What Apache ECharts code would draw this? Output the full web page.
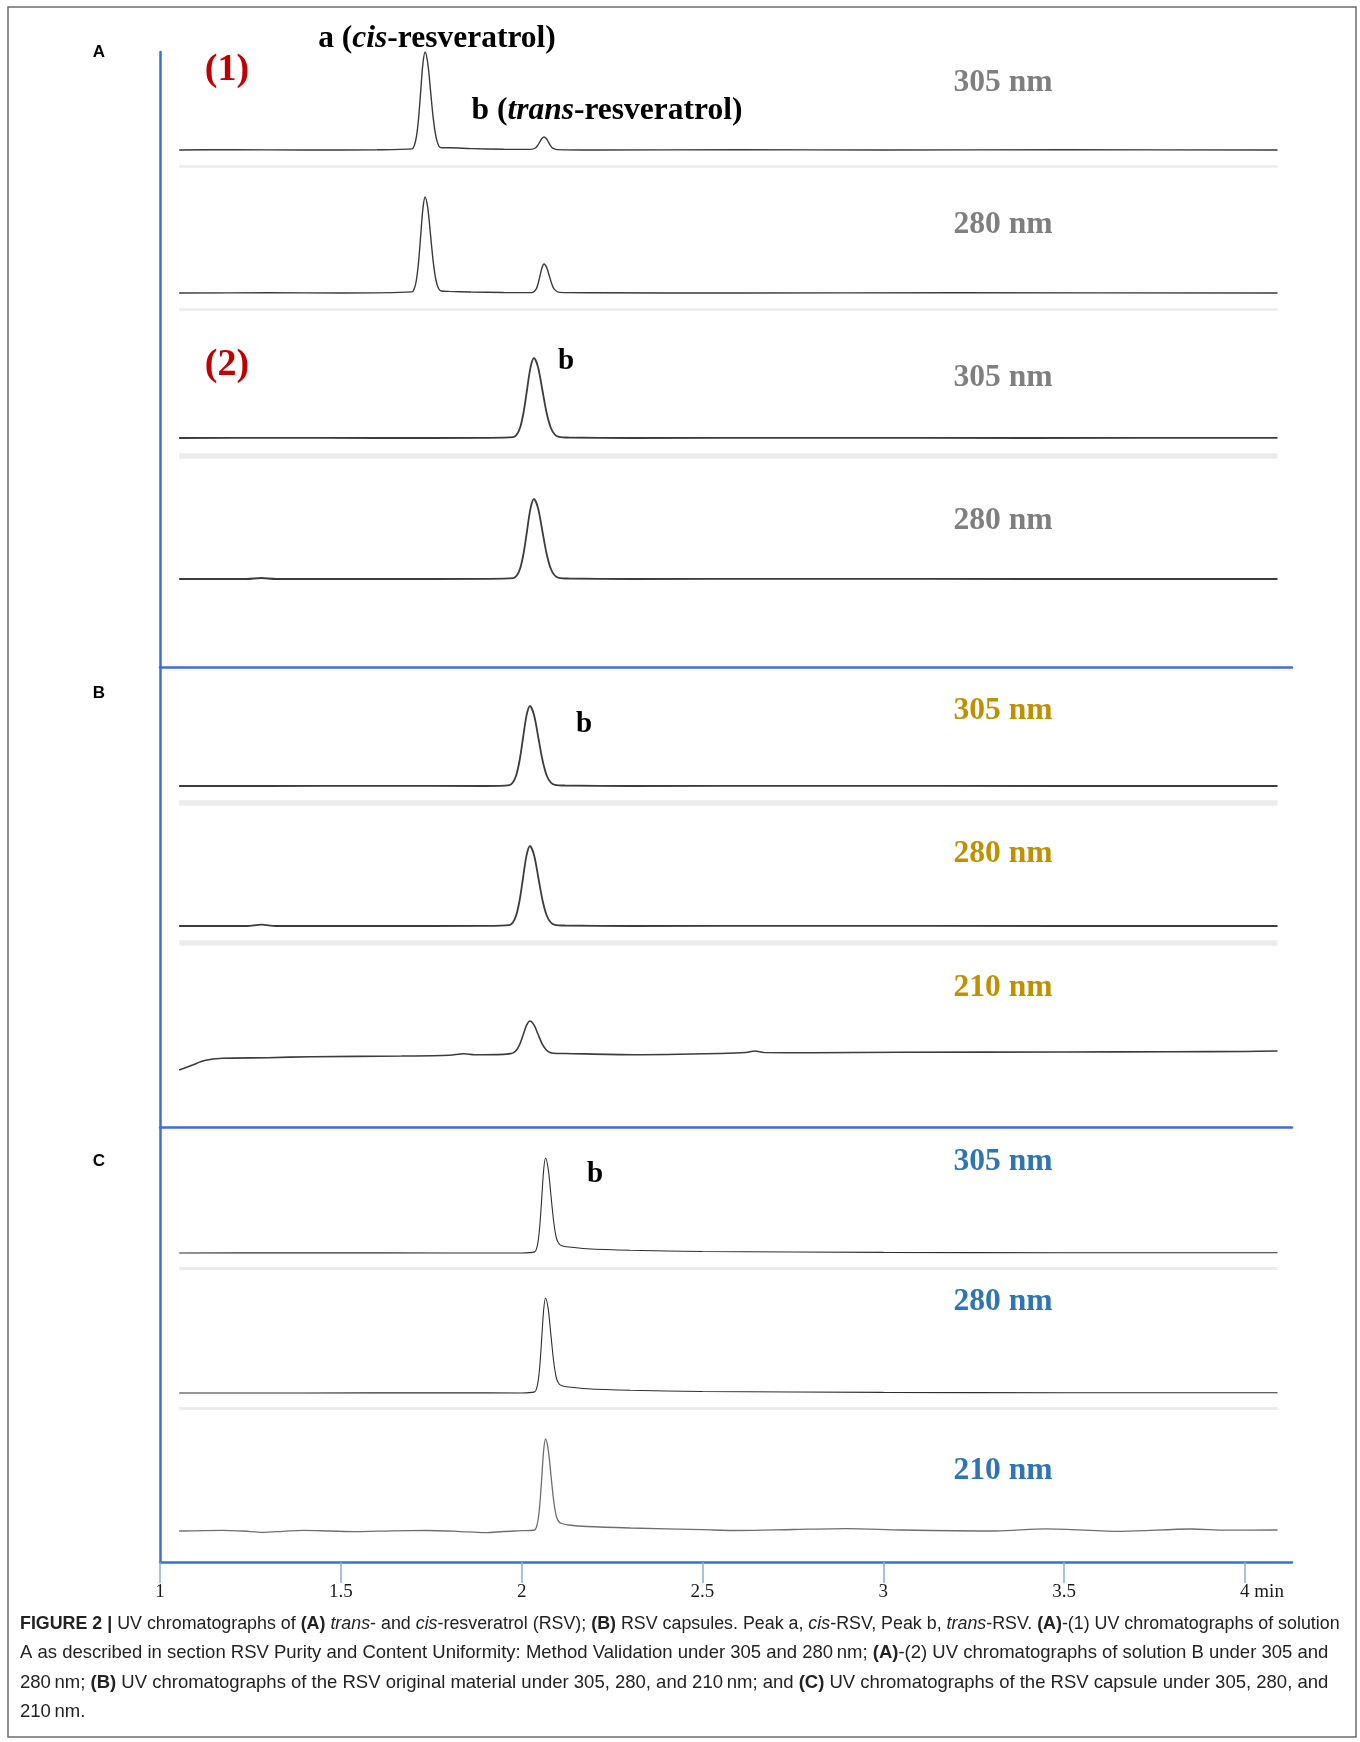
<!DOCTYPE html>
<html>
<head>
<meta charset="utf-8">
<script src="https://cdn.jsdelivr.net/npm/echarts@6/dist/echarts.min.js"></script>
<style>
  html, body { margin: 0; padding: 0; background: #ffffff; }
  #chart { width: 1360px; height: 1742px; }
</style>
</head>
<body>
<div id="chart"></div>
<script>
// Retention-time axis (min)
const timeTicks = [1, 1.5, 2, 2.5, 3, 3.5, 4];
const timeRange = [1, 4.13];

// Detection wavelengths of each chromatogram, top to bottom
const wavelengths = ['305 nm', '280 nm', '305 nm', '280 nm', '305 nm', '280 nm', '210 nm', '305 nm', '280 nm', '210 nm'];

// Chromatograms: [retention time (min), detector response (relative units)]
// (A)-(1) solution A, 305 nm: peak a (cis) and peak b (trans)
const traceA1_305 = [
  [1.053, 0], [1.2, 0.3], [1.4, 0], [1.6, 0.2], [1.697, 1.1], [1.703, 4.3], [1.709, 13.3], [1.715, 31.8],
  [1.721, 59.4], [1.727, 86.5], [1.733, 98], [1.7405, 86.5], [1.748, 59.4], [1.7555, 31.8], [1.763, 13.3],
  [1.7705, 4.3], [1.778, 2.2], [1.80, 2.2], [1.86, 1.4], [1.95, 0.8], [2.026, 0.6], [2.038, 2], [2.044, 4.4],
  [2.050, 8], [2.056, 11.5], [2.062, 13], [2.068, 11.5], [2.074, 7.9], [2.080, 4.2], [2.086, 1.8], [2.098, 0.4],
  [2.2, 0], [2.6, 0.2], [3.0, 0], [3.5, 0.2], [4.09, 0]
];
// (A)-(1) solution A, 280 nm
const traceA1_280 = [
  [1.053, 0], [1.3, 0.2], [1.5, 0], [1.697, 1.1], [1.703, 4.2], [1.709, 13], [1.715, 31.2], [1.721, 58.2],
  [1.727, 84.7], [1.733, 96], [1.7405, 84.7], [1.748, 58.2], [1.7555, 31.2], [1.763, 13], [1.7705, 4.2],
  [1.778, 2], [1.80, 1.6], [1.86, 1], [1.95, 0.5], [2.029, 0.4], [2.040, 3.9], [2.0455, 9.4], [2.051, 17.6],
  [2.0565, 25.6], [2.062, 29], [2.069, 25.6], [2.076, 17.6], [2.083, 9.4], [2.090, 3.9], [2.104, 0.6],
  [2.2, 0.2], [2.6, 0], [3.2, 0.2], [4.09, 0]
];
// (A)-(2) solution B, 305 nm: peak b
const traceA2_305 = [
  [1.053, 0], [1.3, 0.2], [1.6, 0], [1.9, 0.2], [1.977, 0.9], [1.9865, 3.5], [1.996, 10.8], [2.0055, 26],
  [2.015, 48.5], [2.0245, 70.6], [2.034, 80], [2.0455, 70.6], [2.057, 48.5], [2.0685, 26], [2.080, 10.8],
  [2.0915, 3.5], [2.103, 1.2], [2.13, 0.5], [2.3, 0], [2.8, 0.2], [3.4, 0], [4.09, 0.1]
];
// (A)-(2) solution B, 280 nm
const traceA2_280 = [
  [1.053, 0], [1.24, 0], [1.28, 1], [1.32, 0], [1.6, 0], [1.9, 0.2], [1.977, 0.9], [1.9865, 3.5], [1.996, 10.8],
  [2.0055, 26], [2.015, 48.5], [2.0245, 70.6], [2.034, 80], [2.0455, 70.6], [2.057, 48.5], [2.0685, 26],
  [2.080, 10.8], [2.0915, 3.5], [2.103, 1.2], [2.13, 0.5], [2.3, 0], [2.8, 0.2], [3.4, 0], [4.09, 0]
];
// (B) RSV original material, 305 nm
const traceB_305 = [
  [1.053, 0], [1.3, 0], [1.6, 0.2], [1.9, 0], [1.966, 0.9], [1.9755, 3.5], [1.985, 10.8], [1.9945, 26],
  [2.004, 48.5], [2.0135, 70.6], [2.023, 80], [2.0345, 70.6], [2.046, 48.5], [2.0575, 26], [2.069, 10.8],
  [2.0805, 3.5], [2.092, 1.2], [2.12, 0.5], [2.3, 0], [2.8, 0.2], [3.5, 0], [4.09, 0]
];
// (B) RSV original material, 280 nm
const traceB_280 = [
  [1.053, 0], [1.24, 0], [1.28, 1.3], [1.32, 0], [1.6, 0], [1.9, 0.1], [1.966, 0.9], [1.9755, 3.5], [1.985, 10.8],
  [1.9945, 26], [2.004, 48.5], [2.0135, 70.6], [2.023, 80], [2.0345, 70.6], [2.046, 48.5], [2.0575, 26],
  [2.069, 10.8], [2.0805, 3.5], [2.092, 1.2], [2.12, 0.5], [2.3, 0], [2.8, 0.2], [3.5, 0], [4.09, 0]
];
// (B) RSV original material, 210 nm (rising baseline at the start)
const traceB_210 = [
  [1.053, 2], [1.09, 7], [1.123, 11.5], [1.173, 13.7], [1.297, 14.3], [1.42, 15.3], [1.668, 16], [1.80, 16.8],
  [1.84, 18.2], [1.87, 17.2], [1.95, 17.6], [1.969, 18.4], [1.978, 19.4], [1.987, 22.5], [1.996, 28.7],
  [2.005, 38], [2.014, 47.1], [2.023, 51], [2.034, 47.1], [2.045, 38], [2.056, 28.7], [2.067, 22.5],
  [2.078, 19.6], [2.089, 18.8], [2.12, 18.5], [2.31, 17.3], [2.55, 18.5], [2.62, 19.5], [2.645, 21],
  [2.67, 19.5], [2.8, 19.3], [3.05, 19.7], [3.5, 20], [3.8, 20.3], [4.0, 20.5], [4.09, 21]
];
// (C) RSV capsule, 305 nm (tailing peak b)
const traceC_305 = [
  [1.053, 0], [1.4, 0.2], [1.8, 0], [2.0, 0], [2.036, 1.1], [2.041, 4.2], [2.046, 12.9], [2.051, 30.8],
  [2.056, 57.6], [2.061, 83.8], [2.066, 95], [2.0735, 83.8], [2.081, 57.6], [2.0885, 31.5], [2.096, 15],
  [2.1035, 9], [2.111, 7.3], [2.13, 6], [2.18, 4.3], [2.3, 2.8], [2.5, 1.5], [3.0, 0.6], [3.5, 0.3], [4.09, 0.2]
];
// (C) RSV capsule, 280 nm
const traceC_280 = [
  [1.053, 0], [1.4, 0], [1.8, 0.2], [2.0, 0], [2.036, 1.1], [2.041, 4.2], [2.046, 12.9], [2.051, 30.8],
  [2.056, 57.6], [2.061, 83.8], [2.066, 95], [2.0735, 83.8], [2.081, 57.6], [2.0885, 31.5], [2.096, 15],
  [2.1035, 9], [2.111, 7.3], [2.13, 6], [2.18, 4.3], [2.3, 2.8], [2.5, 1.5], [3.0, 0.6], [3.5, 0.3], [4.09, 0.2]
];
// (C) RSV capsule, 210 nm (wavy baseline)
const traceC_210 = [
  [1.053, 0], [1.173, 0.7], [1.23, 0], [1.284, -1.3], [1.34, -0.3], [1.396, 0.7], [1.47, 0], [1.544, -0.7],
  [1.64, 0.2], [1.74, 0.5], [1.82, -0.3], [1.90, -1.7], [1.95, -0.5], [2.0, 0.3], [2.036, 1], [2.041, 4],
  [2.046, 12.5], [2.051, 30], [2.056, 55.8], [2.061, 81.2], [2.066, 92], [2.0735, 81.2], [2.081, 55.8],
  [2.0885, 30.5], [2.096, 14.5], [2.1035, 9], [2.111, 7.5], [2.13, 6], [2.18, 4.5], [2.3, 3], [2.5, 1.3],
  [2.6, 0.5], [2.75, 1.5], [2.9, 2.4], [3.05, 1], [3.31, 0], [3.45, 2.2], [3.66, -0.3], [3.85, 2],
  [3.95, 0.8], [4.09, 1]
];

// ---- layout ----
const GRID_LEFT = 160;
const GRID_RIGHT = 68;
const AXIS_BLUE = '#3d6fd4';
const TICK_BLUE = '#8eaadc';
const SERIF = '"Liberation Serif", "Times New Roman", serif';
const SANS = '"Liberation Sans", Arial, Helvetica, sans-serif';

// Section frames (A, B, C) drawn as blue L-shaped axes
const frames = [
  { top: 52, height: 615 },
  { top: 667, height: 460 },
  { top: 1127, height: 435 }
];

// Per-chromatogram placement: baseline pixel, grey band below trace, stroke
const traces = [
  { data: traceA1_305, base: 150, band: 16, bandW: 2.5, color: '#3a3a3a', width: 1.4, labelY: 83,  labelColor: '#7f7f7f' },
  { data: traceA1_280, base: 293, band: 16, bandW: 2.5, color: '#3a3a3a', width: 1.4, labelY: 225, labelColor: '#7f7f7f' },
  { data: traceA2_305, base: 438, band: 18, bandW: 5.5, color: '#3c3c3c', width: 1.8, labelY: 378, labelColor: '#7f7f7f' },
  { data: traceA2_280, base: 579, band: 0,  bandW: 0,   color: '#3c3c3c', width: 1.8, labelY: 521, labelColor: '#7f7f7f' },
  { data: traceB_305,  base: 786, band: 17, bandW: 5.5, color: '#3c3c3c', width: 1.8, labelY: 711, labelColor: '#bf9000' },
  { data: traceB_280,  base: 926, band: 17, bandW: 5.5, color: '#3c3c3c', width: 1.8, labelY: 854, labelColor: '#bf9000' },
  { data: traceB_210,  base: 1072, band: 0, bandW: 0,   color: '#3c3c3c', width: 1.6, labelY: 988, labelColor: '#bf9000' },
  { data: traceC_305,  base: 1253, band: 15, bandW: 3.2, color: '#2e2e2e', width: 1.1, labelY: 1162, labelColor: '#2e75b6' },
  { data: traceC_280,  base: 1393, band: 15, bandW: 3.2, color: '#2e2e2e', width: 1.1, labelY: 1302, labelColor: '#2e75b6' },
  { data: traceC_210,  base: 1531, band: 0,  bandW: 0,   color: '#6e6e6e', width: 1.3, labelY: 1471, labelColor: '#2e75b6' }
];

const grid = [];
const xAxis = [];
const yAxis = [];
const series = [];

frames.forEach((f, i) => {
  const isLast = i === frames.length - 1;
  grid.push({ left: GRID_LEFT, right: GRID_RIGHT, top: f.top, height: f.height, containLabel: false, outerBoundsMode: 'none' });
  xAxis.push({
    gridIndex: i, type: 'value', min: timeRange[0], max: timeRange[1],
    axisLine: { show: true, lineStyle: { color: AXIS_BLUE, width: 2.5 } },
    axisTick: isLast
      ? { show: true, customValues: timeTicks, length: 21, lineStyle: { color: TICK_BLUE, width: 1.5 } }
      : { show: false },
    axisLabel: isLast
      ? {
          show: true, customValues: timeTicks, margin: 21,
          formatter: v => (v === 4 ? '{gap|}{v|4 min}' : '{v|' + v + '}'),
          rich: {
            v: { fontFamily: SERIF, fontSize: 19, color: '#1a1a1a' },
            gap: { width: 34 }
          }
        }
      : { show: false },
    splitLine: { show: false }
  });
  yAxis.push({
    gridIndex: i, type: 'value', min: 0, max: 1,
    axisLine: { show: true, onZero: false, lineStyle: { color: AXIS_BLUE, width: 2.5 } },
    axisTick: { show: false }, axisLabel: { show: false }, splitLine: { show: false }
  });
  series.push({ type: 'line', xAxisIndex: i, yAxisIndex: i, data: [], silent: true });
});

traces.forEach((t, k) => {
  const idx = frames.length + k;
  grid.push({ left: GRID_LEFT, right: GRID_RIGHT, top: t.base - 100, height: 120, containLabel: false, outerBoundsMode: 'none' });
  xAxis.push({ gridIndex: idx, type: 'value', min: timeRange[0], max: timeRange[1], show: false });
  yAxis.push({ gridIndex: idx, type: 'value', min: -20, max: 100, show: false });
  const first = t.data[0][0];
  const last = t.data[t.data.length - 1][0];
  series.push({
    type: 'line',
    xAxisIndex: idx, yAxisIndex: idx,
    data: t.data,
    showSymbol: false,
    smooth: 0.3,
    silent: true,
    lineStyle: { color: t.color, width: t.width },
    markLine: t.band ? {
      silent: true,
      symbol: ['none', 'none'],
      label: { show: false },
      lineStyle: { color: '#ececec', width: t.bandW, type: 'solid' },
      data: [[{ coord: [first, -t.band] }, { coord: [last, -t.band] }]]
    } : undefined,
    z: 3
  });
});

// ---- text ----
const graphic = [];
graphic.push({
  type: 'rect', silent: true, z: -1,
  shape: { x: 8, y: 7, width: 1348, height: 1730 },
  style: { fill: 'none', stroke: '#6b6b6b', lineWidth: 1.5 }
});

[['A', 52], ['B', 693], ['C', 1161]].forEach(([txt, y]) => {
  graphic.push({
    type: 'text', silent: true, x: 99, y: y,
    style: { text: txt, fontFamily: SANS, fontWeight: 'bold', fontSize: 17, fill: '#000', align: 'center', verticalAlign: 'middle' }
  });
});

traces.forEach((t, k) => {
  graphic.push({
    type: 'text', silent: true, x: 1003, y: t.labelY,
    style: { text: wavelengths[k], fontFamily: SERIF, fontWeight: 'bold', fontSize: 31.6, fill: t.labelColor, align: 'center', verticalAlign: 'middle' }
  });
});

[['(1)', 70], ['(2)', 365]].forEach(([txt, y]) => {
  graphic.push({
    type: 'text', silent: true, x: 227, y: y,
    style: { text: txt, fontFamily: SERIF, fontWeight: 'bold', fontSize: 38, fill: '#c00000', align: 'center', verticalAlign: 'middle' }
  });
});

const peakRich = {
  r: { fontFamily: SERIF, fontWeight: 'bold', fontSize: 31.5, fill: '#000' },
  i: { fontFamily: SERIF, fontWeight: 'bold', fontStyle: 'italic', fontSize: 31.5, fill: '#000' },
  s: { fontFamily: SERIF, fontWeight: 'bold', fontSize: 29, fill: '#000' }
};
[
  ['{r|a (}{i|cis}{r|-resveratrol)}', 437, 39],
  ['{r|b (}{i|trans}{r|-resveratrol)}', 607, 111],
  ['{s|b}', 566, 362],
  ['{s|b}', 584, 725],
  ['{s|b}', 595, 1175]
].forEach(([txt, x, y]) => {
  graphic.push({
    type: 'text', silent: true, x: x, y: y,
    style: { text: txt, rich: peakRich, align: 'center', verticalAlign: 'middle' }
  });
});

// Caption, one entry per printed line with its type size
const captionLines = [
  ['{b|FIGURE 2 |}{r| UV chromatographs of }{b|(A)}{r| }{i|trans}{r|- and }{i|cis}{r|-resveratrol (RSV); }{b|(B)}{r| RSV capsules. Peak a, }{i|cis}{r|-RSV, Peak b, }{i|trans}{r|-RSV. }{b|(A)}{r|-(1) UV chromatographs of solution}', 17.85],
  ['{r|A as described in section RSV Purity and Content Uniformity: Method Validation under 305 and 280\u2009nm; }{b|(A)}{r|-(2) UV chromatographs of solution B under 305 and}', 18.5],
  ['{r|280\u2009nm; }{b|(B)}{r| UV chromatographs of the RSV original material under 305, 280, and 210\u2009nm; and }{b|(C)}{r| UV chromatographs of the RSV capsule under 305, 280, and}', 18.5],
  ['{r|210\u2009nm.}', 18.5]
];
captionLines.forEach(([line, size], k) => {
  graphic.push({
    type: 'text', silent: true, x: 20, y: 1624 + k * 29.3,
    style: {
      text: line, align: 'left', verticalAlign: 'middle',
      rich: {
        r: { fontFamily: SANS, fontSize: size, fill: '#222' },
        b: { fontFamily: SANS, fontSize: size, fontWeight: 'bold', fill: '#222' },
        i: { fontFamily: SANS, fontSize: size, fontStyle: 'italic', fill: '#222' }
      }
    }
  });
});

const chart = echarts.init(document.getElementById('chart'), null, { renderer: 'canvas' });
chart.setOption({
  animation: false,
  backgroundColor: '#ffffff',
  grid, xAxis, yAxis, series, graphic
});
</script>
</body>
</html>
